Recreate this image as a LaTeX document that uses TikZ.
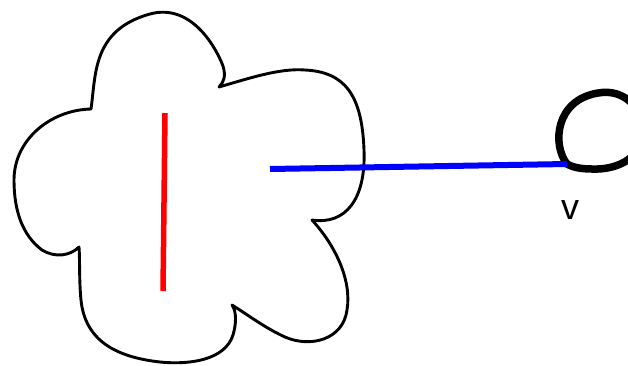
\documentclass[tikz,border=0pt]{standalone}
\usepackage{fontspec}
\setmainfont{Liberation Sans}
\begin{document}
\begin{tikzpicture}[x=1pt,y=-1pt,
  cloudline/.style={line width=2.9pt, line join=round},
  redseg/.style={draw=red, line width=5.5pt},
  blueseg/.style={draw=blue, line width=6pt},
  ringline/.style={line width=7.5pt, line join=round}]
\useasboundingbox (0,0) rectangle (628,365);
\clip (0,0) rectangle (628,365);
% cloud
\draw[cloudline] (91,109) .. controls (96,75) and (92,30) .. (150,14)
  .. controls (190,3) and (215,45) .. (223,66)
  .. controls (226,76) and (224,82) .. (219,87)
  .. controls (250,78) and (280,68) .. (305,70)
  .. controls (345,72) and (362,95) .. (364,150)
  .. controls (366,200) and (345,225) .. (312,220)
  .. controls (335,245) and (352,280) .. (347,310)
  .. controls (343,340) and (310,348) .. (285,337)
  .. controls (265,328) and (245,313) .. (232,305)
  .. controls (237,312) and (236,325) .. (233,335)
  .. controls (225,360) and (190,365) .. (160,362)
  .. controls (115,357) and (85,340) .. (81,300)
  .. controls (79,280) and (80,260) .. (79,247)
  .. controls (70,256) and (55,258) .. (42,250)
  .. controls (22,235) and (14,210) .. (14,180)
  .. controls (14,140) and (50,110) .. (91,109) -- cycle;
\coordinate (redtop) at (165,113);
\coordinate (redbot) at (163,291);
\coordinate (bluestart) at (270,169);
% ring v
\coordinate (v) at (567,164);
\draw[ringline] (v) .. controls (552,145) and (555,100) .. (598,93)
  .. controls (625,88) and (645,110) .. (642,135)
  .. controls (640,160) and (615,170) .. (592,169)
  .. controls (580,169) and (572,167) .. (v) -- cycle;
\node[font=\fontsize{36}{40}\selectfont, inner sep=0pt] (vlabel) at (570,210) {v};
\draw[redseg] (redtop) -- (redbot);
\draw[blueseg] (bluestart) -- (v);
\end{tikzpicture}
\end{document}
